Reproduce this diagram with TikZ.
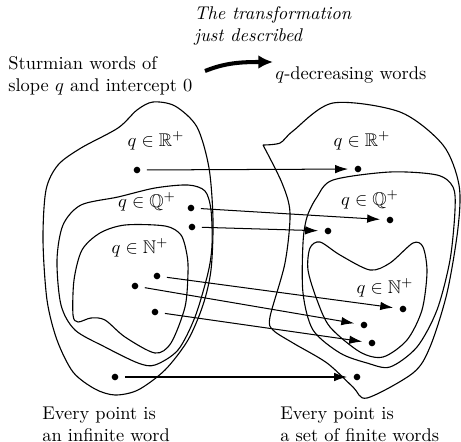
\documentclass[tikz,border=0pt]{standalone}
\usepackage{amsmath,amssymb}
\usepackage{tikz}
\usetikzlibrary{
  arrows.meta,
  positioning
}
\tikzset{
  blob/.style={draw,line width=0.6pt},
  pnt/.style={circle,fill,inner sep=0pt,minimum size=3.6pt,outer sep=3.6pt},
  setlab/.style={inner sep=0pt},
  lab/.style={align=left,inner sep=0pt,anchor=west},
  mapflow/.style={-{Latex[length=7pt,width=4.6pt]},line width=0.55pt},
  bigflow/.style={-{Latex[length=8pt,width=7.5pt]},line width=2.2pt}
}

\begin{document}
\begin{tikzpicture}[x=0.543pt,y=-0.543pt]
  \useasboundingbox (0,0) rectangle (461,442);
  % headings
  \node[lab] (sturm) at (8,76) {Sturmian words of\\slope $q$ and intercept 0};
  \node[lab] (qdec) at (275,75) {$q$-decreasing words};
  \node[lab,font=\itshape] (trans) at (194,26) {The transformation\\just described};
  \coordinate (t0) at (205,71);
  \coordinate (t1) at (273,62);
  \draw[bigflow] (t0) .. controls (225,63) and (240,62) .. (t1);
  % left sets
  \draw[blob] plot[smooth cycle] coordinates {(153,102) (175,106) (197,127) (209,168)
    (213,220) (211,270) (203,305) (188,340) (165,370) (138,390) (115,395) (95,389)
    (73,372) (57,340) (47,300) (43,240) (46,190) (58,165) (81,148) (118,128) (137,110)};
  \draw[blob] plot[smooth cycle] coordinates {(155,188) (188,185) (205,191) (211,210)
    (212,245) (208,273) (195,317) (178,350) (155,365) (138,363) (105,347) (75,330)
    (61,305) (57,260) (63,225) (81,205) (118,197)};
  \draw[blob] plot[smooth cycle] coordinates {(125,225) (165,226) (181,235) (187,255)
    (188,273) (185,307) (171,343) (155,353) (125,337) (105,320) (91,318) (78,322)
    (73,315) (74,280) (82,250) (100,233)};
  % right sets
  \draw[blob] plot[smooth] coordinates {(263,145) (280,143) (293,131) (333,103)
    (400,112) (443,145) (459,185) (458,228) (447,293) (430,347) (413,373) (367,398)
    (353,387) (327,363) (293,343) (273,330) (270,317) (285,263) (290,213) (282,183)
    (263,145)};
  \draw[blob] plot[smooth cycle] coordinates {(333,180) (390,172) (437,175) (453,187)
    (455,210) (450,260) (437,310) (417,347) (390,367) (367,363) (340,353) (313,330)
    (303,293) (303,243) (307,217) (317,197)};
  \draw[blob] plot[smooth cycle] coordinates {(320,242) (340,255) (370,270) (390,263)
    (413,243) (423,247) (427,272) (422,310) (407,340) (383,357) (360,352) (330,327)
    (317,300) (308,270) (310,248)};
  % set labels
  \node[setlab] (lRl) at (156,141) {$q\in\mathbb{R}^+$};
  \node[setlab] (lQl) at (147,202) {$q\in\mathbb{Q}^+$};
  \node[setlab] (lNl) at (140,248) {$q\in\mathbb{N}^+$};
  \node[setlab] (rRl) at (362,141) {$q\in\mathbb{R}^+$};
  \node[setlab] (rQl) at (370,200) {$q\in\mathbb{Q}^+$};
  \node[setlab] (rNl) at (385,288) {$q\in\mathbb{N}^+$};
  % points
  \node[pnt] (lR) at (137,170) {};
  \node[pnt] (lQa) at (191,208) {};
  \node[pnt] (lQb) at (192,227) {};
  \node[pnt] (lNa) at (157,276) {};
  \node[pnt] (lNb) at (135,286) {};
  \node[pnt] (lNc) at (155,312) {};
  \node[pnt] (lB) at (115,377) {};
  \node[pnt] (rR) at (358,169) {};
  \node[pnt] (rQa) at (390,220) {};
  \node[pnt] (rQb) at (328,231) {};
  \node[pnt] (rNa) at (403,309) {};
  \node[pnt] (rNb) at (364,325) {};
  \node[pnt] (rNc) at (372,343) {};
  \node[pnt] (rB) at (357,377) {};
  \draw[mapflow] (lR)--(rR);
  \draw[mapflow] (lQa)--(rQa);
  \draw[mapflow] (lQb)--(rQb);
  \draw[mapflow] (lNa)--(rNa);
  \draw[mapflow] (lNb)--(rNb);
  \draw[mapflow] (lNc)--(rNc);
  \draw[mapflow] (lB)--(rB);
  % footers
  \node[lab] (lfoot) at (42,424) {Every point is\\an infinite word};
  \node[lab] (rfoot) at (280,424) {Every point is\\a set of finite words};
\end{tikzpicture}
\end{document}
